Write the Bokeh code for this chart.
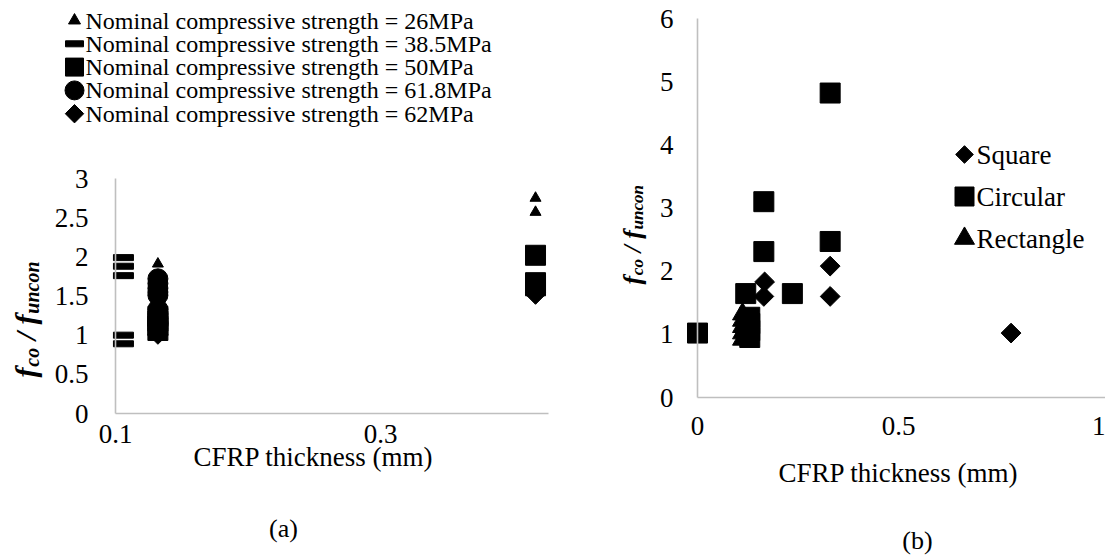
import math
from bokeh.plotting import figure
from bokeh.models import Label, FixedTicker, Range1d
from bokeh.layouts import row
from bokeh.embed import file_html
from bokeh.resources import INLINE

SERIF = "Liberation Serif"

# ---------------- data: panel (a) ----------------
a_labels = ["Nominal compressive strength  = 26MPa",
            "Nominal compressive strength  = 38.5MPa",
            "Nominal compressive strength  = 50MPa",
            "Nominal compressive strength  = 61.8MPa",
            "Nominal compressive strength  = 62MPa"]
a26_x = [0.132, 0.132, 0.132, 0.417, 0.417]
a26_y = [1.91, 1.60, 1.20, 2.75, 2.57]
a385_x = [0.106, 0.106, 0.106, 0.106, 0.106]
a385_y = [1.99, 1.88, 1.76, 1.00, 0.89]
a50_x = [0.132, 0.132, 0.132, 0.132, 0.417, 0.417, 0.417]
a50_y = [1.06, 1.12, 1.18, 1.24, 2.02, 1.67, 1.63]
a618_x = [0.132] * 9
a618_y = [1.72, 1.66, 1.60, 1.55, 1.51, 1.33, 1.27, 1.21, 1.15]
a62_x = [0.132, 0.132, 0.417, 0.417]
a62_y = [1.01, 1.08, 1.55, 1.52]
a_xticks = [0.1, 0.3]
a_xtick_labels = ["0.1", "0.3"]
a_yticks = [0, 0.5, 1, 1.5, 2, 2.5, 3]
a_ytick_labels = ["0", "0.5", "1", "1.5", "2", "2.5", "3"]

# ---------------- data: panel (b) ----------------
b_labels = ["Square", "Circular", "Rectangle"]
b_sq_x = [0.167, 0.165, 0.33, 0.33, 0.78, 0.12]
b_sq_y = [1.83, 1.60, 2.08, 1.60, 1.02, 1.00]
b_ci_x = [0.0, 0.12, 0.165, 0.165, 0.236, 0.33, 0.33, 0.13, 0.13, 0.13, 0.13]
b_ci_y = [1.02, 1.645, 3.10, 2.31, 1.645, 4.82, 2.47, 1.27, 1.17, 1.06, 0.95]
b_re_x = [0.112, 0.112, 0.112, 0.112, 0.112]
b_re_y = [1.32, 1.22, 1.12, 1.02, 0.92]
b_xticks = [0, 0.5, 1]
b_xtick_labels = ["0", "0.5", "1"]
b_yticks = [0, 1, 2, 3, 4, 5, 6]
b_ytick_labels = ["0", "1", "2", "3", "4", "5", "6"]

x_title = "CFRP thickness (mm)"

# ---------------- page geometry (pixels) ----------------
WA, WB, H = 552, 553, 555
a_sx = (380 - 115) / 0.2
a_sy = (413 - 178) / 3.0
a_xr = (0.1 - 115 / a_sx, 0.1 + (WA - 115) / a_sx)
a_yr = (-(H - 413) / a_sy, 413 / a_sy)
b_sx = (547 - 145) / 1.0
b_sy = (397 - 18) / 6.0
b_xr = (-145 / b_sx, (WB - 145) / b_sx)
b_yr = (-(H - 397) / b_sy, 397 / b_sy)


def make_fig(w, xr, yr):
    p = figure(width=w, height=H, x_range=Range1d(*xr), y_range=Range1d(*yr),
               output_backend="svg", toolbar_location=None, min_border=0)
    p.min_border_left = p.min_border_right = 0
    p.min_border_top = p.min_border_bottom = 0
    p.outline_line_color = None
    p.xgrid.visible = False
    p.ygrid.visible = False
    p.background_fill_color = "white"
    p.border_fill_color = "white"
    return p


def style_axis(ax, ticks, labels, loc, bounds, standoff):
    ax.fixed_location = loc
    ax.bounds = bounds
    ax.ticker = FixedTicker(ticks=ticks)
    ax.major_label_overrides = {v: s for v, s in zip(ticks, labels)}
    ax.axis_line_color = "#bfbfbf"
    ax.axis_line_width = 1.6
    ax.major_tick_line_color = None
    ax.minor_tick_line_color = None
    ax.major_label_text_font = SERIF
    ax.major_label_text_font_size = "27px"
    ax.major_label_text_color = "black"
    ax.major_label_standoff = standoff


def lab(p, text, x, y, size, align="left"):
    p.add_layout(Label(x=x, y=H - y, x_units="screen", y_units="screen",
                       text=text, text_font=SERIF, text_font_size=f"{size}px",
                       text_align=align, text_baseline="middle",
                       text_color="black"))


def ytitle(p, bl_x, bottom_y, m, s):
    parts = [("f", m, 0.36, 0), ("co", s, 0.944, 1), (None, m, 0.25, 0),
             ("/", m, 0.278, 0), (None, m, 0.25, 0), ("f", m, 0.36, 0),
             ("uncon", s, 2.612, 1)]
    pos = bottom_y
    for t, sz, w, sub in parts:
        if t is not None:
            off = 0.2 * m if sub else 0
            p.add_layout(Label(x=bl_x + off, y=H - pos, x_units="screen",
                               y_units="screen", text=t, angle=math.pi / 2,
                               text_align="left", text_baseline="alphabetic",
                               text_font=SERIF, text_font_style="bold italic",
                               text_font_size=f"{sz}px", text_color="black"))
        pos -= sz * w


def to_data(xr, yr, w, px, py):
    return (xr[0] + px / w * (xr[1] - xr[0]),
            yr[0] + (H - py) / H * (yr[1] - yr[0]))


# ---------------- panel (a) ----------------
pa = make_fig(WA, a_xr, a_yr)
style_axis(pa.xaxis[0], a_xticks, a_xtick_labels, 0, (0.1, a_xr[1] - 0.003), 5)
style_axis(pa.yaxis[0], a_yticks, a_ytick_labels, 0.1, (0, 3), 21)

pa.scatter(a26_x, a26_y, marker="triangle", size=11, color="black")
pa.rect(a385_x, a385_y, width=20, height=6, width_units="screen",
        height_units="screen", color="black")
pa.scatter(a50_x, a50_y, marker="square", size=20, color="black")
pa.scatter(a618_x, a618_y, marker="circle", size=20, color="black")
pa.scatter(a62_x, a62_y, marker="square", angle=math.pi / 4, size=14, color="black")

# legend (a): marker column + text
a_leg_y = [20 + 23.3 * i for i in range(5)]
a_leg_mx = 74
a_leg_tx = 85
lx, ly = zip(*[to_data(a_xr, a_yr, WA, a_leg_mx, y) for y in a_leg_y])
pa.scatter([lx[0]], [ly[0]], marker="triangle", size=12, color="black")
pa.rect([lx[1]], [ly[1]], width=18, height=6, width_units="screen",
        height_units="screen", color="black")
pa.scatter([lx[2]], [ly[2]], marker="square", size=18, color="black")
pa.scatter([lx[3]], [ly[3]], marker="circle", size=19, color="black")
pa.scatter([lx[4]], [ly[4]], marker="square", angle=math.pi / 4, size=13, color="black")
for i, txt in enumerate(a_labels):
    lab(pa, txt, a_leg_tx, a_leg_y[i], 24)

lab(pa, x_title, 313, 456, 27, align="center")
lab(pa, "(a)", 283, 528, 26, align="center")
ytitle(pa, 25, 377, 30, 20)

# ---------------- panel (b) ----------------
pb = make_fig(WB, b_xr, b_yr)
style_axis(pb.xaxis[0], b_xticks, b_xtick_labels, 0, (0, b_xr[1]), 13)
style_axis(pb.yaxis[0], b_yticks, b_ytick_labels, 0, (0, 6), 18)

pb.scatter(b_sq_x, b_sq_y, marker="square", angle=math.pi / 4, size=14, color="black")
pb.scatter(b_ci_x, b_ci_y, marker="square", size=20, color="black")
pb.scatter(b_re_x, b_re_y, marker="triangle", size=20, color="black")

b_leg_y = [154, 196, 238]
b_mx = 964 - WA
b_tx = 976 - WA
bx_, by_ = zip(*[to_data(b_xr, b_yr, WB, b_mx, y) for y in b_leg_y])
pb.scatter([bx_[0]], [by_[0]], marker="square", angle=math.pi / 4, size=12.5, color="black")
pb.scatter([bx_[1]], [by_[1]], marker="square", size=19, color="black")
pb.scatter([bx_[2]], [by_[2]], marker="triangle", size=20, color="black")
for i, txt in enumerate(b_labels):
    lab(pb, txt, b_tx, b_leg_y[i], 27)

lab(pb, x_title, 898 - WA, 472, 27, align="center")
lab(pb, "(b)", 917 - WA, 540, 26, align="center")
ytitle(pb, 632 - WA, 284, 26, 17)

layout = row(pa, pb)
open("out.html", "w").write(file_html(layout, INLINE))
